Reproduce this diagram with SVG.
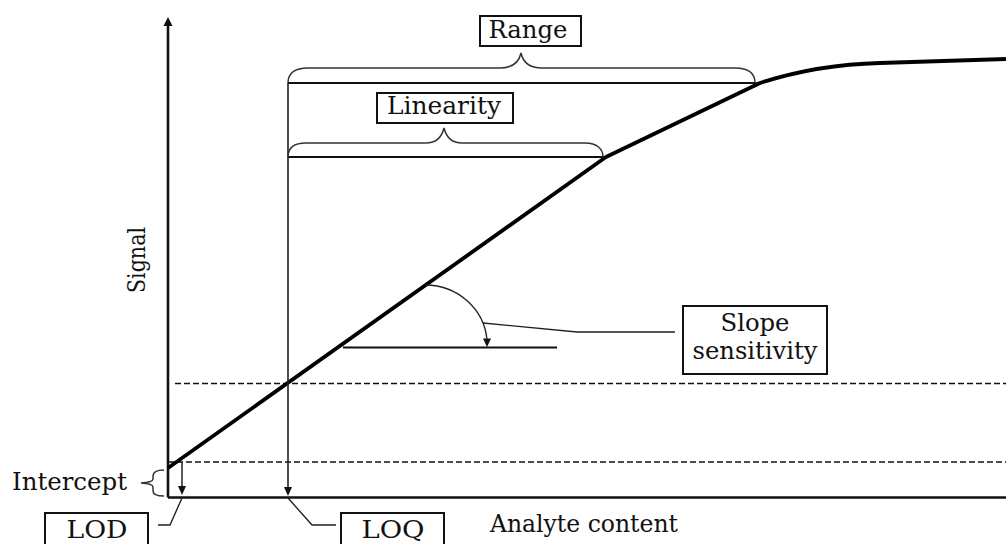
<svg xmlns="http://www.w3.org/2000/svg" width="1006" height="544" viewBox="0 0 1006 544">
<style>
.t{font-family:"DejaVu Serif","Liberation Serif",serif;font-size:24px;fill:#111;}
.box{fill:#fff;stroke:#111;stroke-width:2;}
.thin{fill:none;stroke:#222;stroke-width:1.4;}
.brace{fill:none;stroke:#333;stroke-width:1.5;}
.dash{fill:none;stroke:#111;stroke-width:1.6;stroke-dasharray:6 3;}
.ah{fill:#111;}
</style>
<rect width="1006" height="544" fill="#fff"/>
<g id="axes">
<line x1="168" y1="497.5" x2="1006" y2="497.5" stroke="#111" stroke-width="2.6"/>
<line x1="168" y1="497.5" x2="168" y2="24" stroke="#111" stroke-width="2.6"/>
<polygon class="ah" points="168,17 163.5,26 172.5,26"/>
<text class="t" transform="translate(145,260) rotate(-90)" text-anchor="middle" textLength="66" lengthAdjust="spacingAndGlyphs">Signal</text>
<text class="t" x="490" y="532" textLength="188" lengthAdjust="spacingAndGlyphs">Analyte content</text>
</g>
<g id="guides">
<line class="dash" x1="175" y1="383.5" x2="1006" y2="383.5"/>
<line class="dash" x1="168" y1="462" x2="1006" y2="462"/>
</g>
<g id="curve">
<path d="M168,468 L606,157 L760,83 C800,70 840,64 880,63 L1006,59" fill="none" stroke="#000" stroke-width="3.8" stroke-linejoin="round"/>
</g>
<g id="connectors">
<line x1="288" y1="83" x2="288" y2="489" stroke="#222" stroke-width="1.6"/>
<polygon class="ah" points="288,496 284,487 292,487"/>
<line x1="288" y1="83" x2="758" y2="83" stroke="#111" stroke-width="2"/>
<line x1="288" y1="157" x2="604" y2="157" stroke="#111" stroke-width="2"/>
<path class="brace" d="M288,83 C288,74 294,68 308,68 L500,68 C512,68 519,62 521,53 C523,62 530,68 542,68 L735,68 C749,68 755,74 755,83"/>
<path class="brace" d="M288,157 C288,149 293,143 306,143 L426,143 C437,143 442,136 444,128 C446,136 451,143 462,143 L585,143 C597,143 603,149 603,157"/>
<line x1="182" y1="462" x2="182" y2="487" stroke="#222" stroke-width="1.5"/>
<polygon class="ah" points="182,495 178,486 186,486"/>
<path class="brace" d="M164,470 C156,470 153,472 153,476 L153,479 C153,481 150,482.5 141,483 C150,483.5 153,485 153,487 L153,491 C153,494 156,496 164,496"/>
<line x1="343" y1="347.5" x2="557" y2="347.5" stroke="#111" stroke-width="2"/>
<path class="thin" d="M425,285 A62,60 0 0 1 487,340"/>
<polygon class="ah" points="487,347 483,338.5 491,338.5"/>
<polyline class="thin" points="483,323 577,332 675,332"/>
<polyline class="thin" points="158,525 170,525 182,498"/>
<polyline class="thin" points="288,498 312,525 336,525"/>
</g>
<g id="range-label">
<rect class="box" x="480" y="16" width="101" height="30" stroke-width="2.4"/>
<text class="t" x="528" y="38" text-anchor="middle" textLength="79" lengthAdjust="spacingAndGlyphs">Range</text>
</g>
<g id="linearity-label">
<rect class="box" x="377" y="93" width="136" height="30" stroke-width="2.4"/>
<text class="t" x="444" y="114" text-anchor="middle" textLength="114" lengthAdjust="spacingAndGlyphs">Linearity</text>
</g>
<g id="slope-label">
<rect class="box" x="683" y="306" width="144" height="68" stroke-width="1.5"/>
<text class="t" x="755" y="331" text-anchor="middle" textLength="69" lengthAdjust="spacingAndGlyphs">Slope</text>
<text class="t" x="755" y="359" text-anchor="middle" textLength="125" lengthAdjust="spacingAndGlyphs">sensitivity</text>
</g>
<g id="intercept-label">
<text class="t" x="12" y="490" textLength="115" lengthAdjust="spacingAndGlyphs">Intercept</text>
</g>
<g id="lod-label">
<rect class="box" x="45" y="513" width="103" height="50" stroke-width="1.5"/>
<text class="t" x="97" y="538" text-anchor="middle" textLength="61" lengthAdjust="spacingAndGlyphs">LOD</text>
</g>
<g id="loq-label">
<rect class="box" x="341" y="513" width="103" height="50" stroke-width="1.5"/>
<text class="t" x="393" y="538" text-anchor="middle" textLength="63" lengthAdjust="spacingAndGlyphs">LOQ</text>
</g>
</svg>
